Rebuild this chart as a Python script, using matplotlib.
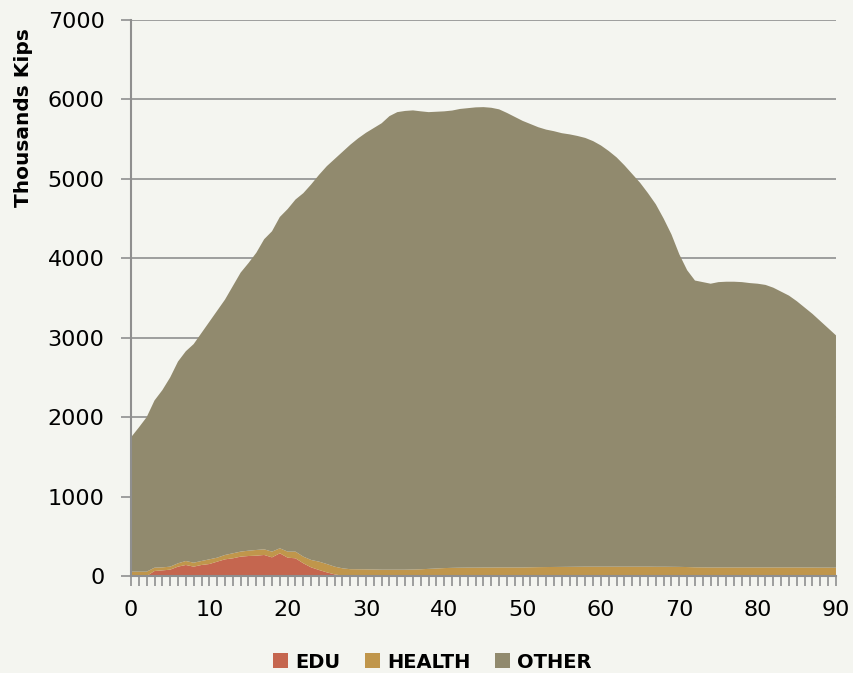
import numpy as np
import matplotlib
matplotlib.use("Agg")
from matplotlib import pyplot as plt
from matplotlib.ticker import MultipleLocator

# age 0..90
ages = list(range(91))

total = [1746, 1870, 2000, 2210, 2340, 2500, 2700, 2830, 2920, 3060,
         3200, 3340, 3480, 3650, 3820, 3940, 4070, 4240, 4340, 4520,
         4620, 4740, 4820, 4930, 5050, 5160, 5250, 5340, 5430, 5510,
         5580, 5640, 5700, 5790, 5840, 5855, 5862, 5850, 5840, 5845,
         5850, 5860, 5880, 5890, 5900, 5903, 5895, 5875, 5830, 5780,
         5730, 5690, 5650, 5620, 5600, 5575, 5560, 5540, 5515, 5475,
         5420, 5350, 5270, 5170, 5060, 4950, 4820, 4680, 4500, 4300,
         4050, 3850, 3720, 3700, 3680, 3700, 3705, 3705, 3700, 3688,
         3680, 3665, 3630, 3580, 3530, 3460, 3380, 3300, 3210, 3120,
         3030]

edu = [0, 0, 0, 63, 71, 80, 118, 139, 118, 139,
       151, 181, 210, 223, 244, 252, 256, 265, 235, 286,
       231, 223, 160, 109, 76, 46, 21, 4, 0, 0] + [0] * 61

health = [55, 55, 55, 42, 38, 38, 42, 50, 50, 50,
          59, 50, 55, 63, 63, 67, 72, 71, 72, 63,
          76, 84, 84, 93, 105, 105, 97, 93, 86, 85,
          84, 82, 80, 80, 80, 80, 82, 85, 90, 95,
          100, 103, 105, 106, 106, 107, 107, 108, 108, 108,
          108, 110, 112, 113, 114, 115, 116, 117, 118, 118,
          118, 118, 118, 118, 118, 118, 118, 117, 117, 116,
          115, 113, 110, 109, 108, 108, 108, 108, 108, 108,
          108, 108, 108, 108, 108, 108, 107, 107, 106, 106,
          105]

other = [t - e - h for t, e, h in zip(total, edu, health)]

labels = ['EDU', 'HEALTH', 'OTHER']
colors = ['#c5664f', '#c0964b', '#918a6e']
bg = '#f4f5f0'
grid_col = '#8f8f8f'

fig = plt.figure(figsize=(8.54, 6.73), dpi=100, facecolor=bg)
ax = fig.add_axes([0.1534, 0.1441, 0.8255, 0.8262])
ax.set_facecolor(bg)

ax.stackplot(ages, edu, health, other, colors=colors, labels=labels,
             linewidth=0, edgecolor='none', zorder=2)

ax.set_xlim(0, 90)
ax.set_ylim(0, 7000)
ax.set_xticks(range(0, 91, 10))
ax.xaxis.set_minor_locator(MultipleLocator(1))
ax.set_yticks(range(0, 7001, 1000))

ax.yaxis.grid(True, color=grid_col, linewidth=1.2, zorder=0)
ax.set_axisbelow(True)

for s in ['top', 'right']:
    ax.spines[s].set_visible(False)
for s in ['left', 'bottom']:
    ax.spines[s].set_color(grid_col)
    ax.spines[s].set_linewidth(1.5)
    ax.spines[s].set_zorder(3)

ax.tick_params(axis='y', length=7, width=1.2, color=grid_col, pad=12,
               labelsize=16, labelcolor='black')
ax.tick_params(axis='x', which='major', length=7, width=1.2, color=grid_col,
               pad=10, labelsize=16, labelcolor='black')
ax.tick_params(axis='x', which='minor', length=7, width=1.2, color=grid_col)

# y label sits near the top of the axis, not centred
fig.text(0.027, 0.825, 'Thousands Kips', rotation=90, ha='center', va='center',
         fontsize=14.5, fontweight='bold')

fig.legend(loc='lower center', bbox_to_anchor=(0.506, -0.024), ncol=3,
           frameon=False, handlelength=0.8, handleheight=0.8,
           handletextpad=0.35, columnspacing=1.25,
           prop={'size': 14, 'weight': 'bold'})

fig.savefig('out.png', dpi=100, facecolor=bg)
